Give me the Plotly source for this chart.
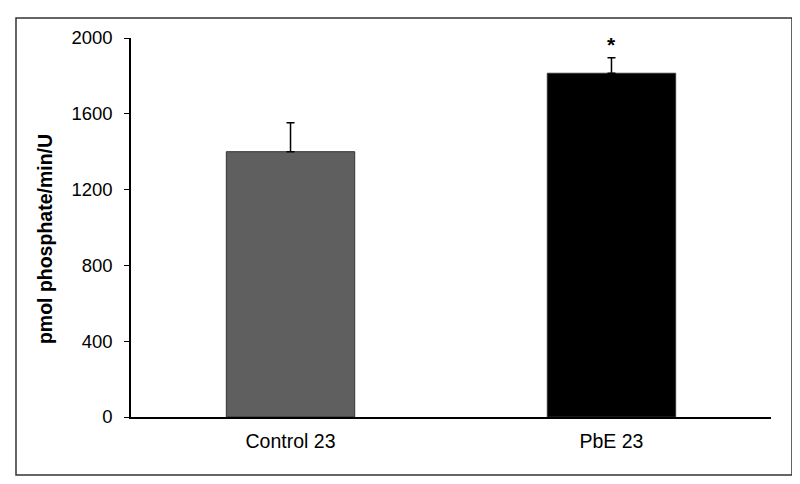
import plotly.graph_objects as go

# data
groups = ['Control 23', 'PbE 23']
activity = [1400, 1814]
sem_upper = [153, 82]
bar_colors = ['#5f5f5f', '#000000']
y_ticks = [0, 400, 800, 1200, 1600, 2000]

fig = go.Figure(go.Bar(
    x=groups,
    y=activity,
    width=0.4,
    marker=dict(color=bar_colors, line=dict(color='#333333', width=1)),
    error_y=dict(type='data', symmetric=False, array=sem_upper,
                 arrayminus=[0, 0], color='black', thickness=1.5, width=4),
    hoverinfo='x+y',
))

# significance marker
fig.add_annotation(x=groups[1], y=activity[1] + sem_upper[1], text='<b>*</b>',
                   showarrow=False, yanchor='bottom', yshift=0,
                   font=dict(size=21, color='black', family='Liberation Sans'))

# y-axis title placed as annotation
fig.add_annotation(xref='paper', yref='paper', x=-0.134, y=0.47,
                   xanchor='center', yanchor='middle',
                   text='<b>pmol phosphate/min/U</b>', textangle=-90,
                   showarrow=False, font=dict(size=19.5, color='black'))

# outer frame around the whole chart
fig.add_shape(type='rect', xref='paper', yref='paper',
              x0=-0.1797, x1=1.0328, y0=-0.153, y1=1.0528,
              line=dict(color='#333333', width=1.5), fillcolor='rgba(0,0,0,0)')

# the page body adds 8px, so the figure is 792x476
fig.update_layout(
    width=792, height=476,
    margin=dict(l=123, r=29, t=30, b=67),
    paper_bgcolor='white', plot_bgcolor='white',
    font=dict(family='Liberation Sans', color='black', size=18),
    showlegend=False,
    xaxis=dict(range=[-0.497, 1.497], showline=True, linecolor='black',
               linewidth=1.5, ticks='', showgrid=False,
               ticklabelstandoff=6, tickfont=dict(size=19.5)),
    yaxis=dict(range=[0, 2000], tickvals=y_ticks, showline=True,
               linecolor='black', linewidth=1.5, ticks='outside',
               ticklen=5, tickcolor='black', showgrid=False,
               zeroline=False, ticklabelstandoff=8,
               tickfont=dict(size=18.5)),
)

fig.write_html('out.html')
